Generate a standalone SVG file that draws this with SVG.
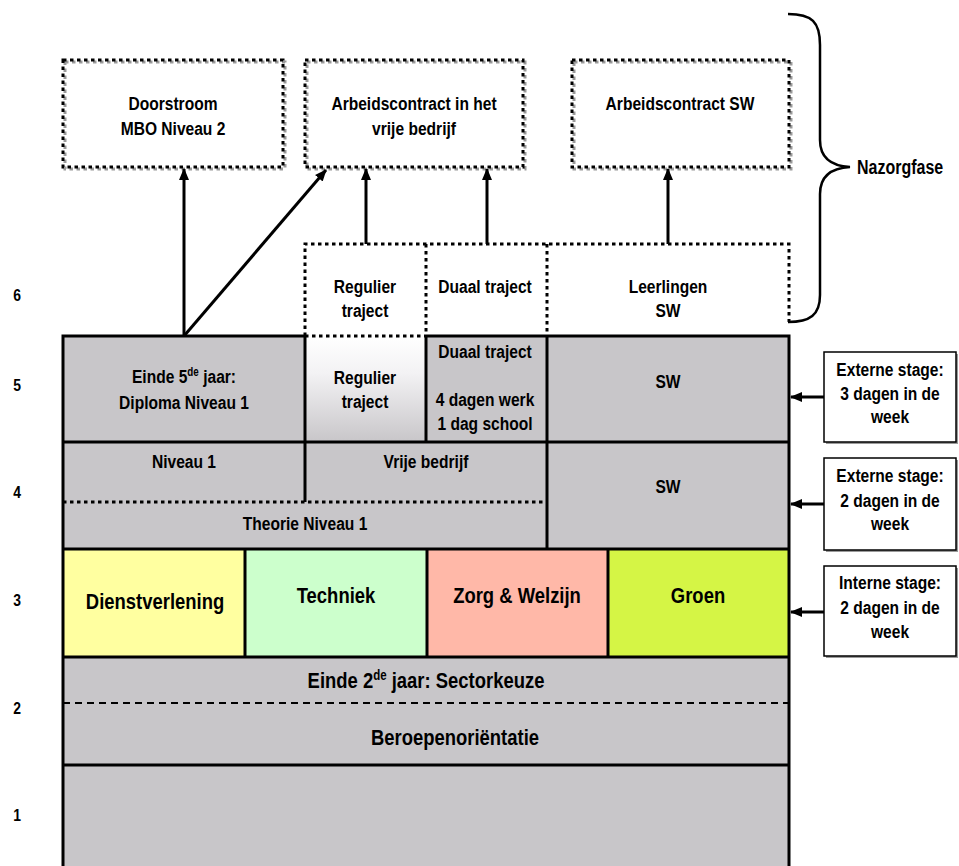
<svg xmlns="http://www.w3.org/2000/svg" width="959" height="866" viewBox="0 0 959 866">
<style>
.t{font-family:"Liberation Sans",Arial,sans-serif;font-weight:bold;text-anchor:middle;fill:#000;font-size:19px}
.big{font-size:22.5px}
.num{font-size:17px}
.g{fill:#c8c6c9}
.ln{stroke:#000;stroke-width:3;fill:none}
.dot{stroke:#000;stroke-width:3;stroke-dasharray:3.5 3.5;fill:none}
.dotsh{stroke:#9a9a9a;stroke-width:3;stroke-dasharray:3.5 3.5;fill:none}
.arr{stroke:#000;stroke-width:3;fill:none;marker-end:url(#ah)}
.sbox{fill:#fff;stroke:#000;stroke-width:1.5}
.ssh{fill:#9a9a9a}
</style>
<defs>
<marker id="ah" viewBox="0 0 12 12" refX="11" refY="6" markerWidth="12" markerHeight="12" markerUnits="userSpaceOnUse" orient="auto"><path d="M0,1 L12,6 L0,11 z" fill="#000"/></marker>
<linearGradient id="reg" x1="0" y1="0" x2="0" y2="1"><stop offset="0" stop-color="#ffffff"/><stop offset="0.35" stop-color="#f3f2f4"/><stop offset="1" stop-color="#c8c6c9"/></linearGradient>
</defs>
<rect width="959" height="866" fill="#fff"/>

<g id="levels">
<text class="t num" transform="translate(17,301) scale(0.82,1)">6</text>
<text class="t num" transform="translate(17,391) scale(0.82,1)">5</text>
<text class="t num" transform="translate(17,498) scale(0.82,1)">4</text>
<text class="t num" transform="translate(17,606) scale(0.82,1)">3</text>
<text class="t num" transform="translate(17,714) scale(0.82,1)">2</text>
<text class="t num" transform="translate(17,821) scale(0.82,1)">1</text>
</g>

<g id="doorstroom">
<rect class="dotsh" x="65" y="62" width="220" height="107"/>
<rect class="dot" x="63" y="60" width="220" height="107" fill="#fff"/>
<text class="t" transform="translate(173,110) scale(0.82,1)">Doorstroom</text>
<text class="t" transform="translate(173,135) scale(0.82,1)">MBO Niveau 2</text>
</g>
<g id="arbeid-vrij">
<rect class="dotsh" x="307" y="62" width="218" height="107"/>
<rect class="dot" x="305" y="60" width="218" height="107" fill="#fff"/>
<text class="t" transform="translate(414,110) scale(0.82,1)">Arbeidscontract in het</text>
<text class="t" transform="translate(414,135) scale(0.82,1)">vrije bedrijf</text>
</g>
<g id="arbeid-sw">
<rect class="dotsh" x="574" y="62" width="217" height="107"/>
<rect class="dot" x="572" y="60" width="217" height="107" fill="#fff"/>
<text class="t" transform="translate(680,110) scale(0.82,1)">Arbeidscontract SW</text>
</g>

<g id="brace">
<path d="M788,14 C812,14 820,22 820,45 L820,140 C820,158 832,166 850,167 C832,168 820,176 820,194 L820,295 C820,315 810,322 788,322" stroke="#000" stroke-width="2.5" fill="none"/>
<text class="t" transform="translate(857,174) scale(0.82,1)" style="text-anchor:start;font-size:19.5px">Nazorgfase</text>
</g>

<g id="grid">
<rect class="g" x="63" y="336" width="726" height="530"/>
<rect fill="url(#reg)" x="305" y="336" width="121" height="106"/>
<rect fill="#ffffa0" x="63" y="549" width="182" height="108"/>
<rect fill="#ccffcc" x="245" y="549" width="182" height="108"/>
<rect fill="#ffb8a8" x="427" y="549" width="181" height="108"/>
<rect fill="#d5f545" x="608" y="549" width="181" height="108"/>
<path class="ln" d="M63,866 V336 H305 M426,336 H789 V866"/>
<path class="ln" d="M63,442 H789 M63,549 H789 M63,657 H789 M63,765 H789"/>
<path class="ln" d="M305,336 V502 M426,336 V442 M547,336 V549 M245,549 V657 M427,549 V657 M608,549 V657"/>
<path class="dot" d="M305,336 H426 M63,502 H547"/>
<path d="M63,703 H789" stroke="#000" stroke-width="2" stroke-dasharray="7 5" fill="none"/>
</g>

<g id="row6">
<path class="dot" d="M305,336 V244 H789 V322 M426,244 V336 M547,244 V336"/>
<text class="t" transform="translate(365,293) scale(0.82,1)">Regulier</text>
<text class="t" transform="translate(365,317) scale(0.82,1)">traject</text>
<text class="t" transform="translate(485,293) scale(0.82,1)">Duaal traject</text>
<text class="t" transform="translate(668,293) scale(0.82,1)">Leerlingen</text>
<text class="t" transform="translate(668,317) scale(0.82,1)">SW</text>
</g>

<g id="row5">
<text class="t" transform="translate(184,383) scale(0.82,1)">Einde 5<tspan dy="-7" style="font-size:12px">de</tspan><tspan dy="7"> jaar:</tspan></text>
<text class="t" transform="translate(184,409) scale(0.82,1)">Diploma Niveau 1</text>
<text class="t" transform="translate(365,384) scale(0.82,1)">Regulier</text>
<text class="t" transform="translate(365,408) scale(0.82,1)">traject</text>
<text class="t" transform="translate(485,358) scale(0.82,1)">Duaal traject</text>
<text class="t" transform="translate(485,406) scale(0.82,1)">4 dagen werk</text>
<text class="t" transform="translate(485,430) scale(0.82,1)">1 dag school</text>
<text class="t" transform="translate(668,388) scale(0.82,1)">SW</text>
</g>

<g id="row4">
<text class="t" transform="translate(184,468) scale(0.82,1)">Niveau 1</text>
<text class="t" transform="translate(426,468) scale(0.82,1)">Vrije bedrijf</text>
<text class="t" transform="translate(305,530) scale(0.82,1)">Theorie Niveau 1</text>
<text class="t" transform="translate(668,493) scale(0.82,1)">SW</text>
</g>

<g id="row3">
<text class="t big" transform="translate(155,609) scale(0.82,1)">Dienstverlening</text>
<text class="t big" transform="translate(336,603) scale(0.82,1)">Techniek</text>
<text class="t big" transform="translate(517,603) scale(0.82,1)">Zorg &amp; Welzijn</text>
<text class="t big" transform="translate(698,603) scale(0.82,1)">Groen</text>
</g>

<g id="row2">
<text class="t big" transform="translate(426,688) scale(0.82,1)">Einde 2<tspan dy="-8" style="font-size:14px">de</tspan><tspan dy="8"> jaar: Sectorkeuze</tspan></text>
<text class="t big" transform="translate(455,745) scale(0.82,1)">Beroepenoriëntatie</text>
</g>

<g id="stage5">
<rect class="ssh" x="826" y="354" width="132" height="90"/>
<rect class="sbox" x="824" y="352" width="132" height="90"/>
<text class="t" transform="translate(890,376) scale(0.82,1)">Externe stage:</text>
<text class="t" transform="translate(890,400) scale(0.82,1)">3 dagen in de</text>
<text class="t" transform="translate(890,423) scale(0.82,1)">week</text>
</g>
<g id="stage4">
<rect class="ssh" x="826" y="460" width="132" height="92"/>
<rect class="sbox" x="824" y="458" width="132" height="92"/>
<text class="t" transform="translate(890,482) scale(0.82,1)">Externe stage:</text>
<text class="t" transform="translate(890,507) scale(0.82,1)">2 dagen in de</text>
<text class="t" transform="translate(890,530) scale(0.82,1)">week</text>
</g>
<g id="stage3">
<rect class="ssh" x="826" y="568" width="132" height="90"/>
<rect class="sbox" x="824" y="566" width="132" height="90"/>
<text class="t" transform="translate(890,589) scale(0.82,1)">Interne stage:</text>
<text class="t" transform="translate(890,614) scale(0.82,1)">2 dagen in de</text>
<text class="t" transform="translate(890,638) scale(0.82,1)">week</text>
</g>

<g id="connectors">
<line class="arr" x1="184" y1="336" x2="184" y2="169"/>
<line class="arr" x1="184" y1="336" x2="326" y2="170"/>
<line class="arr" x1="366" y1="244" x2="366" y2="169"/>
<line class="arr" x1="487" y1="244" x2="487" y2="169"/>
<line class="arr" x1="668" y1="244" x2="668" y2="169"/>
<line class="arr" x1="824" y1="397" x2="791" y2="397"/>
<line class="arr" x1="824" y1="504" x2="791" y2="504"/>
<line class="arr" x1="824" y1="612" x2="791" y2="612"/>
</g>
</svg>
